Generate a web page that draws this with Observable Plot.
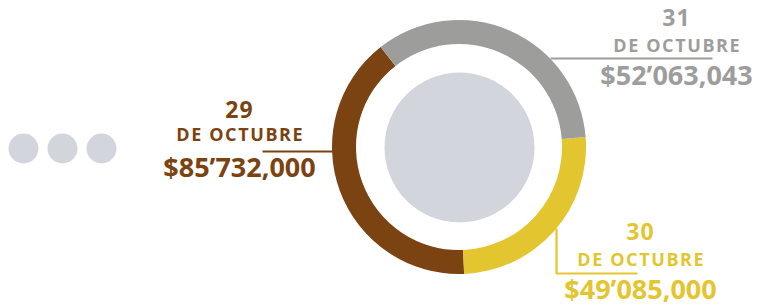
<!DOCTYPE html>
<html><head><meta charset="utf-8">
<script src="https://cdn.jsdelivr.net/npm/d3@7"></script>
<script src="https://cdn.jsdelivr.net/npm/@observablehq/plot@0.6"></script>
<style>
body{margin:0;background:#fff;}
#chart svg{display:block;}
</style></head>
<body><div id="chart"></div>
<script>
// ---- data ----
const days = ["29", "30", "31"];
const monthLabel = ["DE OCTUBRE", "DE OCTUBRE", "DE OCTUBRE"];
const amounts = [85732000, 49085000, 52063043];
const amountLabels = ["$85’732,000", "$49’085,000", "$52’063,043"];
const colors = ["#7a4311", "#e3c530", "#9d9d9c"];
// arc extents as drawn in the picture (degrees clockwise from 12 o'clock)
const arcStart = [177.7, 85.5, -38.1];
const arcEnd = [321.9, 177.7, 85.5];

// ---- layout ----
const W = 760, H = 307;
const center = [459, 147];
const rOuter = 127, rInner = 103, rDisk = 75;
const labelX = [239, 640, 676];
const dayY = [117, 239, 25];
const monthY = [140, 265, 51];
const amountY = [176, 298, 84];
const dotsX = [23, 62, 101], dotsY = 148;
const leaders = [
  [[262, 151], [334, 151]],
  [[556, 228], [556, 273], [637, 273]],
  [[550, 58], [712, 58]]
];

const rows = days.map((d, i) => ({
  day: d, month: monthLabel[i], amount: amounts[i], label: amountLabels[i],
  color: colors[i], start: arcStart[i], end: arcEnd[i],
  x: labelX[i], dy: dayY[i], my: monthY[i], ay: amountY[i]
}));
const leaderPts = leaders.flatMap((pts, i) => pts.map(([x, y]) => ({x, y, i, color: colors[i]})));

const ring = (index, scales) => {
  const g = d3.create("svg:g");
  const arc = d3.arc().innerRadius(rInner).outerRadius(rOuter);
  const x0 = scales.x(center[0]), y0 = scales.y(center[1]);
  g.selectAll("path").data(rows).join("path")
    .attr("transform", `translate(${x0},${y0})`)
    .attr("d", d => arc({startAngle: d.start * Math.PI / 180, endAngle: d.end * Math.PI / 180}))
    .attr("fill", d => d.color);
  return g.node();
};

const font = "'Open Sans', sans-serif";
const chart = Plot.plot({
  width: W, height: H, margin: 0,
  x: {domain: [0, W], range: [0, W], axis: null},
  y: {domain: [0, H], range: [0, H], axis: null},
  style: {fontFamily: font, background: "#fff"},
  marks: [
    Plot.dot(dotsX, {x: d => d, y: () => dotsY, r: 15, fill: "#d2d6dc", stroke: null}),
    ring,
    Plot.dot([center], {x: d => d[0], y: d => d[1], r: rDisk, fill: "#d2d6dc"}),
    Plot.line(leaderPts, {x: "x", y: "y", z: "i", stroke: "color", strokeWidth: 2.2, strokeLinecap: "butt", strokeLinejoin: "miter"}),
    Plot.text(rows, {x: "x", y: "dy", text: "day", fill: "color", fontSize: 23, fontWeight: 700, lineAnchor: "bottom", textAnchor: "middle"}),
    Plot.text(rows, {x: "x", y: "my", text: "month", fill: "color", fontSize: 18, fontWeight: 700, lineAnchor: "bottom", textAnchor: "middle", dx: 0.8}),
    Plot.text(rows, {x: "x", y: "ay", text: "label", fill: "color", fontSize: 27, fontWeight: 700, lineAnchor: "bottom", textAnchor: "middle"})
  ]
});
d3.select(chart).selectAll("text")
  .filter(function() { return monthLabel.includes(this.textContent); })
  .style("letter-spacing", "1.6px");
d3.select(chart).selectAll("text")
  .filter(function() { return days.includes(this.textContent); })
  .style("letter-spacing", "1px");
document.getElementById("chart").appendChild(chart);
</script>
</body></html>
